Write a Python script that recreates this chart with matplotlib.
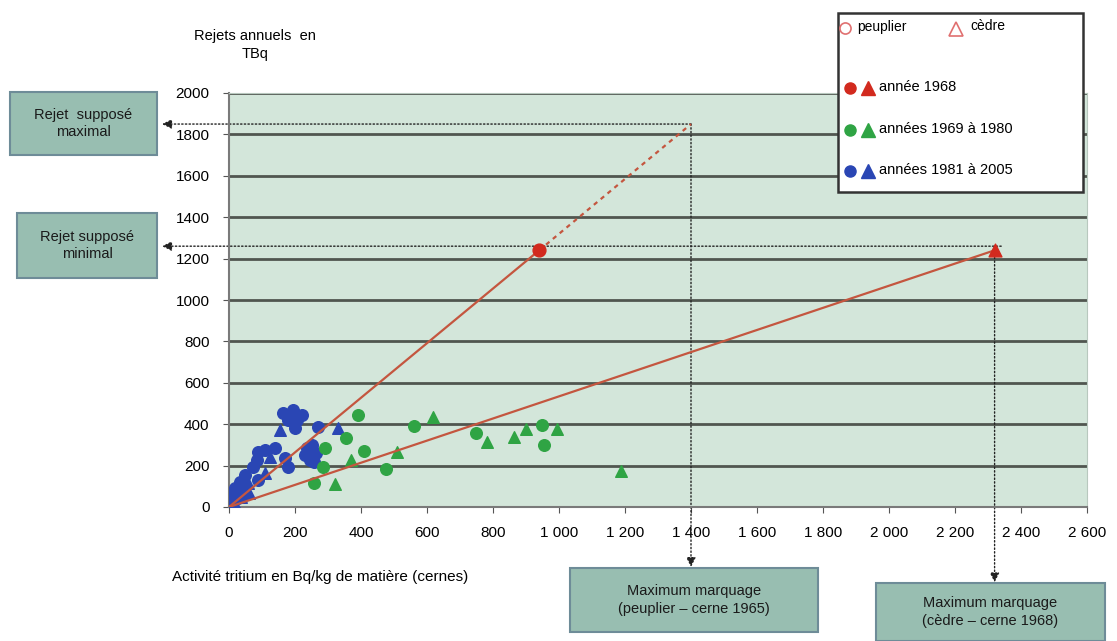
import matplotlib.pyplot as plt
from matplotlib.patches import Rectangle

plt.rcParams['font.family'] = ['Liberation Sans', 'DejaVu Sans']

# données lues sur le graphique
# années 1981 à 2005 (bleu)
bleu_peuplier_x = [163, 193, 220, 178, 205, 199, 269, 87, 109, 139, 84, 72, 169, 178,
                   235, 253, 265, 244, 229, 259, 48, 33, 18, 9, 87, 42, 27, 3]
bleu_peuplier_y = [454, 469, 444, 420, 420, 382, 386, 266, 275, 285, 227, 193, 237, 193,
                   285, 300, 261, 227, 251, 217, 155, 121, 92, 58, 130, 82, 43, 10]
bleu_cedre_x = [154, 329, 124, 57, 109, 15, 35, 60]
bleu_cedre_y = [372, 382, 242, 116, 164, 25, 50, 70]

# années 1969 à 1980 (vert)
vert_peuplier_x = [392, 561, 356, 290, 410, 284, 477, 259, 748, 947, 956]
vert_peuplier_y = [444, 391, 333, 285, 270, 193, 183, 116, 357, 396, 299]
vert_cedre_x = [618, 371, 510, 320, 781, 863, 899, 993, 1189]
vert_cedre_y = [435, 227, 266, 111, 314, 338, 377, 377, 174]

# année 1968 (rouge)
rouge_peuplier = (940, 1240)
rouge_cedre = (2320, 1240)
max_peuplier = (1400, 1850)
niveau_cedre = 1260

y_ticks = list(range(0, 2001, 200))
x_ticks = list(range(0, 2601, 200))
x_labels = ['0', '200', '400', '600', '800', '1 000', '1 200', '1 400', '1 600',
            '1 800', '2 000', '2 200', '2 400', '2 600']

bleu = '#2a46b4'
vert = '#2fa444'
rouge = '#d22a1e'
trait_rouge = '#c4563f'
fond = '#d3e6da'
boite = '#98beb1'
bord_boite = '#6e8c98'

W, H = 1117, 641
fig = plt.figure(figsize=(W / 100, H / 100), dpi=100)
ax = fig.add_axes([229 / W, 1 - 507 / H, 858 / W, 414 / H])
ax.set_facecolor(fond)
ax.set_xlim(0, 2600)
ax.set_ylim(0, 2000)

# lignes horizontales
for v in y_ticks[1:]:
    ax.axhline(v, color='#50564f', lw=2, zorder=1)

ax.set_yticks(y_ticks)
ax.set_xticks(x_ticks)
ax.set_xticklabels(x_labels)
ax.tick_params(labelsize=11, length=4, color='#555555', pad=10)
for s in ['left', 'bottom']:
    ax.spines[s].set_color('#7a7a7a')
    ax.spines[s].set_linewidth(1.5)
for s in ['right', 'top']:
    ax.spines[s].set_color('#b8c8be')

# droites rouges
ax.plot([0, rouge_peuplier[0]], [0, rouge_peuplier[1]], color=trait_rouge, lw=1.6, zorder=4)
ax.plot([rouge_peuplier[0], max_peuplier[0]], [rouge_peuplier[1], max_peuplier[1]],
        color=trait_rouge, lw=1.6, ls=(0, (2, 2)), zorder=4)
ax.plot([0, rouge_cedre[0]], [0, rouge_cedre[1]], color=trait_rouge, lw=1.6, zorder=4)

# points
ax.scatter(bleu_peuplier_x, bleu_peuplier_y, s=70, color=bleu, marker='o', zorder=3)
ax.scatter(bleu_cedre_x, bleu_cedre_y, s=70, color=bleu, marker='^', zorder=3)
ax.scatter(vert_peuplier_x, vert_peuplier_y, s=70, color=vert, marker='o', zorder=3)
ax.scatter(vert_cedre_x, vert_cedre_y, s=70, color=vert, marker='^', zorder=3)
ax.scatter(*rouge_peuplier, s=85, color=rouge, marker='o', zorder=5)
ax.scatter(*rouge_cedre, s=85, color=rouge, marker='^', zorder=5)

# flèches vers les boîtes
fleche = dict(arrowstyle='-|>', color='#222222', lw=1, ls=':', mutation_scale=14,
              shrinkA=0, shrinkB=0)
ax.annotate('', xy=(-0.078, max_peuplier[1]), xycoords=('axes fraction', 'data'),
            xytext=max_peuplier, textcoords='data', arrowprops=fleche, zorder=2)
ax.annotate('', xy=(-0.078, niveau_cedre), xycoords=('axes fraction', 'data'),
            xytext=(rouge_cedre[0] + 20, niveau_cedre), textcoords='data',
            arrowprops=fleche, zorder=2)
ax.annotate('', xy=(max_peuplier[0], -0.145), xycoords=('data', 'axes fraction'),
            xytext=max_peuplier, textcoords='data', arrowprops=fleche, zorder=2)
ax.annotate('', xy=(rouge_cedre[0], -0.182), xycoords=('data', 'axes fraction'),
            xytext=(rouge_cedre[0], niveau_cedre), textcoords='data',
            arrowprops=fleche, zorder=2)

# calque en pixels pour textes et boîtes
ov = fig.add_axes([0, 0, 1, 1])
ov.set_xlim(0, W)
ov.set_ylim(H, 0)
ov.axis('off')
ov.patch.set_alpha(0)

ov.text(255, 45, 'Rejets annuels  en\nTBq', ha='center', va='center', fontsize=10.5,
        linespacing=1.3)
ov.text(172, 577, 'Activité tritium en Bq/kg de matière (cernes)', ha='left',
        va='center', fontsize=11)

boites = [
    (10, 92, 147, 63, 'Rejet  supposé\nmaximal'),
    (17, 213, 140, 65, 'Rejet supposé\nminimal'),
    (570, 568, 248, 64, 'Maximum marquage\n(peuplier – cerne 1965)'),
    (876, 583, 229, 58, 'Maximum marquage\n(cèdre – cerne 1968)'),
]
for bx, by, bw, bh, txt in boites:
    ov.add_patch(Rectangle((bx, by), bw, bh, facecolor=boite, edgecolor=bord_boite, lw=1.5))
    ov.text(bx + bw / 2, by + bh / 2, txt, ha='center', va='center', fontsize=10.5,
            color='#1a1a1a', linespacing=1.3)

# légende
ov.add_patch(Rectangle((838, 13), 245, 179, facecolor='white', edgecolor='#333333', lw=1.8))
ov.plot(845, 28, marker='o', ms=8, mfc='white', mec='#e07070', mew=1.2)
ov.text(857, 27, 'peuplier', va='center', fontsize=10)
ov.plot(956, 29, marker='^', ms=10, mfc='white', mec='#e07070', mew=1.2)
ov.text(970, 26, 'cèdre', va='center', fontsize=10)
rangs = [(88, rouge, 'année 1968'), (130, vert, 'années 1969 à 1980'),
         (171, bleu, 'années 1981 à 2005')]
for yy, c, txt in rangs:
    ov.plot(850, yy, marker='o', ms=8, color=c)
    ov.plot(868, yy, marker='^', ms=10, color=c)
    ov.text(879, yy - 1, txt, va='center', fontsize=10.5)

fig.savefig('out.png', dpi=100)
